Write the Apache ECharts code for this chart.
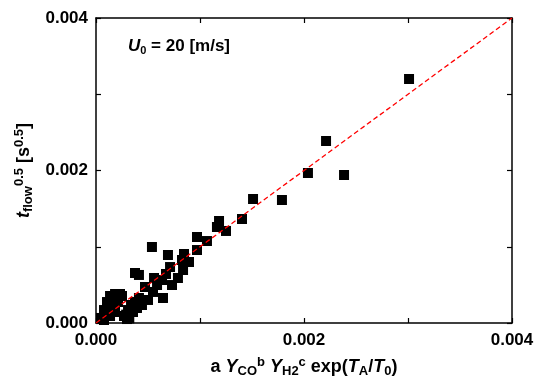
<!DOCTYPE html>
<html>
<head>
<meta charset="utf-8">
<script src="https://cdn.jsdelivr.net/npm/echarts@6/dist/echarts.min.js"></script>
<style>
  html, body { margin: 0; padding: 0; background: #fff; }
  #chart { width: 539px; height: 385px; }
</style>
</head>
<body>
<div id="chart"></div>
<script>
// measured points: x = a Y_CO^b Y_H2^c exp(TA/T0), y = t_flow^0.5
const xVals = [
  0.003010, 0.002212, 0.002038, 0.002385, 0.001788, 0.001510, 0.001404, 0.001183,
  0.001163, 0.001250, 0.000971, 0.001067, 0.000971, 0.000692, 0.000846, 0.000827,
  0.000894, 0.000712, 0.000837, 0.000673, 0.000788, 0.000635, 0.000731, 0.000538,
  0.000375, 0.000413, 0.000558, 0.000587, 0.000471, 0.000548, 0.000644, 0.000500,
  0.000442, 0.000269, 0.000308, 0.000337, 0.000375, 0.000413, 0.000298, 0.000356,
  0.000394, 0.000048, 0.000077, 0.000106, 0.000135, 0.000183, 0.000231, 0.000154,
  0.000183, 0.000135, 0.000077, 0.000212, 0.000250, 0.000115, 0.000160, 0.000290,
  0.000320
]
const yVals = [
  0.003200, 0.002387, 0.001967, 0.001941, 0.001613, 0.001626, 0.001364, 0.001338,
  0.001259, 0.001207, 0.001128, 0.001075, 0.000957, 0.000892, 0.000905, 0.000826,
  0.000800, 0.000734, 0.000695, 0.000643, 0.000590, 0.000564, 0.000498, 0.000997,
  0.000656, 0.000630, 0.000590, 0.000498, 0.000472, 0.000407, 0.000328, 0.000302,
  0.000236, 0.000092, 0.000170, 0.000236, 0.000275, 0.000328, 0.000052, 0.000144,
  0.000197, 0.000066, 0.000170, 0.000275, 0.000354, 0.000380, 0.000380, 0.000249,
  0.000144, 0.000092, 0.000039, 0.000275, 0.000354, 0.000210, 0.000320, 0.000110,
  0.000060
]
// y = x reference line
const lineX = [0, 0.004]
const lineY = [0, 0.004]

const FONT = 'Liberation Sans'

const points = xVals.map((x, i) => [x, yVals[i]])
const linePts = lineX.map((x, i) => [x, lineY[i]])

const txt = (size, extra) => Object.assign({
  fontFamily: FONT, fontWeight: 'bold', fontSize: size, color: '#000'
}, extra || {})

// rich styles for names with sub/superscripts
const richStyles = (big, small, lh) => ({
  n: txt(big, { lineHeight: lh, verticalAlign: 'middle' }),
  i: txt(big, { fontStyle: 'italic', lineHeight: lh, verticalAlign: 'middle' }),
  sub: txt(small, { lineHeight: lh, verticalAlign: 'bottom' }),
  sup: txt(small, { lineHeight: lh, verticalAlign: 'top' })
})

const axisCommon = {
  type: 'value',
  min: 0,
  max: 0.004,
  interval: 0.002,
  axisLine: { show: true, onZero: false, lineStyle: { color: '#000', width: 1.5 } },
  axisTick: { show: true, inside: true, length: 5, lineStyle: { color: '#000', width: 1.2 } },
  minorTick: { show: true, splitNumber: 2, length: 5, lineStyle: { color: '#000', width: 1.2 } },
  splitLine: { show: false },
  minorSplitLine: { show: false }
}

const chart = echarts.init(document.getElementById('chart'), null, { renderer: 'canvas' })

chart.setOption({
  backgroundColor: '#fff',
  animation: false,
  grid: { left: 96, right: 27, top: 18, bottom: 62, containLabel: false, outerBoundsMode: 'none' },
  xAxis: [
    Object.assign({}, axisCommon, {
      position: 'bottom',
      axisLabel: Object.assign(txt(17), { margin: 9, formatter: v => v.toFixed(3) }),
      name: '{n|a }{i|Y}{sub|CO}{sup|b}{n| }{i|Y}{sub|H2}{sup|c}{n| exp(}{i|T}{sub|A}{n|/}{i|T}{sub|0}{n|)}',
      nameLocation: 'middle',
      nameGap: 33,
      nameTextStyle: { rich: richStyles(18, 13, 22) }
    }),
    Object.assign({}, axisCommon, {
      position: 'top',
      axisLabel: { show: false }
    })
  ],
  yAxis: [
    Object.assign({}, axisCommon, {
      position: 'left',
      axisLabel: Object.assign(txt(17), { margin: 8, formatter: v => v.toFixed(3) }),
      name: '{i|t}{sub|flow}{sup|0.5}{n| [s}{sup|0.5}{n|]}',
      nameLocation: 'middle',
      nameGap: 59,
      nameRotate: 90,
      nameTextStyle: { rich: richStyles(18, 13, 22) }
    }),
    Object.assign({}, axisCommon, {
      position: 'right',
      axisLabel: { show: false }
    })
  ],
  graphic: [{
    type: 'text',
    left: 128,
    top: 38,
    style: {
      text: '{i|U}{sub|0}{n| = 20 [m/s]}',
      rich: {
        n: txt(17, { lineHeight: 20, verticalAlign: 'middle' }),
        i: txt(17, { fontStyle: 'italic', lineHeight: 20, verticalAlign: 'middle' }),
        sub: txt(11, { lineHeight: 20, verticalAlign: 'bottom' })
      }
    }
  }],
  series: [
    {
      type: 'scatter',
      data: points,
      symbol: 'rect',
      symbolSize: 10,
      itemStyle: { color: '#000', opacity: 1 },
      z: 2
    },
    {
      type: 'line',
      data: linePts,
      showSymbol: false,
      symbol: 'none',
      lineStyle: { color: '#ff0000', width: 1.3, type: [5, 3] },
      z: 3
    }
  ]
})
</script>
</body>
</html>
